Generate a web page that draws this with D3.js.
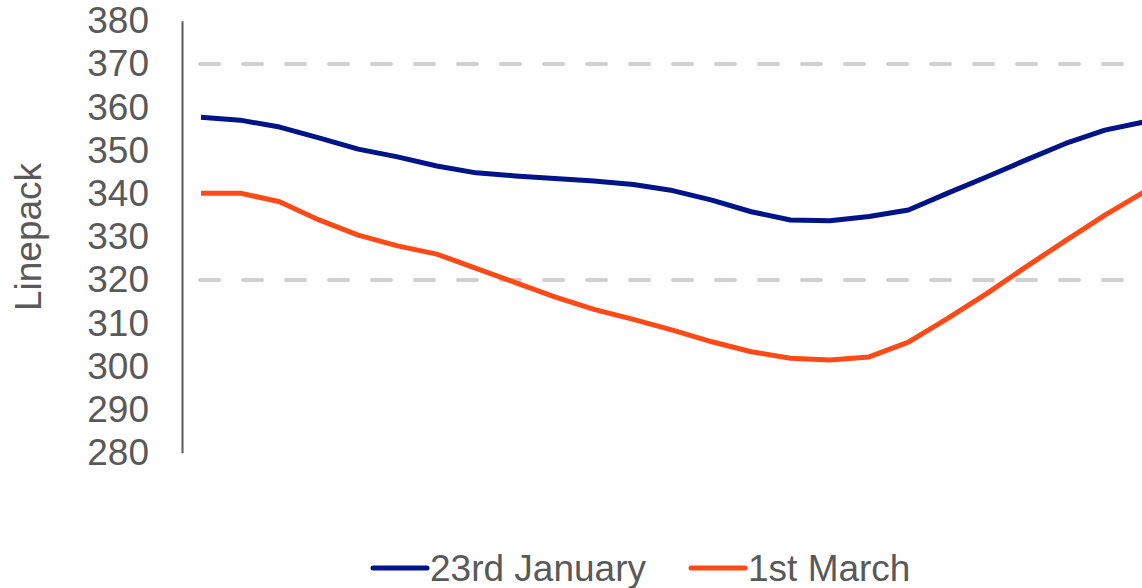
<!DOCTYPE html>
<html>
<head>
<meta charset="utf-8">
<script src="https://cdn.jsdelivr.net/npm/d3@7"></script>
<style>
  html, body { margin: 0; padding: 0; background: #fff; }
  svg { display: block; font-family: "Liberation Sans", Arial, sans-serif; }
</style>
</head>
<body>
<div id="chart"></div>
<script>
// periods along the day (no axis labels shown in the original)
const periods = ['1', '2', '3', '4', '5', '6', '7', '8', '9', '10', '11', '12', '13',
  '14', '15', '16', '17', '18', '19', '20', '21', '22', '23', '24', '25']

const jan23 = [357.7, 357.0, 355.4, 352.9, 350.3, 348.5, 346.4, 344.8, 344.1, 343.5,
  342.9, 342.1, 340.7, 338.5, 335.8, 333.9, 333.7, 334.7, 336.2, 340.1,
  343.9, 347.8, 351.6, 354.7, 356.6]

const mar1 = [340.1, 340.1, 338.1, 333.9, 330.4, 327.9, 326.0, 322.7, 319.4, 316.1,
  313.2, 310.9, 308.4, 305.7, 303.4, 301.9, 301.5, 302.2, 305.6, 311.1,
  316.9, 323.1, 329.1, 335.0, 340.4]

const yTicks = [280, 290, 300, 310, 320, 330, 340, 350, 360, 370, 380]
const gridValues = [320, 370]

const series = [
  { name: '23rd January', values: jan23, color: '#001489' },
  { name: '1st March', values: mar1, color: '#FF4A17' }
]

const width = 1142
const height = 588

const svg = d3.select('#chart')
  .append('svg')
  .attr('width', width)
  .attr('height', height)

const x = d3.scalePoint()
  .domain(periods)
  .range([201, 201 + 39.3 * (periods.length - 1)])

const y = d3.scaleLinear()
  .domain([280, 380])
  .range([452.8, 20.8])

// dashed reference lines
svg.append('g')
  .selectAll('line')
  .data(gridValues)
  .join('line')
  .attr('x1', 200)
  .attr('x2', width + 10)
  .attr('y1', d => y(d))
  .attr('y2', d => y(d))
  .attr('stroke', '#d0d0d0')
  .attr('stroke-width', 4)
  .attr('stroke-linecap', 'round')
  .attr('stroke-dasharray', '19,24')

// y axis
const yAxis = svg.append('g')
  .attr('transform', 'translate(182, 0)')
  .call(d3.axisLeft(y).tickValues(yTicks).tickSize(0).tickPadding(33))

yAxis.select('.domain')
  .attr('stroke', '#595959')
  .attr('stroke-width', 2)

yAxis.selectAll('text')
  .attr('fill', '#595959')
  .style('font-size', '37px')
  .style('font-family', '"Liberation Sans", Arial, sans-serif')

svg.append('text')
  .attr('transform', 'translate(41, 237) rotate(-90)')
  .attr('text-anchor', 'middle')
  .attr('fill', '#595959')
  .style('font-size', '37px')
  .text('Linepack')

// lines
const line = d3.line()
  .x((d, i) => x(periods[i]))
  .y(d => y(d))

svg.append('g')
  .selectAll('path')
  .data(series)
  .join('path')
  .attr('d', d => line(d.values))
  .attr('fill', 'none')
  .attr('stroke', d => d.color)
  .attr('stroke-width', 5)
  .attr('stroke-linejoin', 'round')

// legend
const legendX = [373, 691]
const legend = svg.append('g')
  .selectAll('g')
  .data(series)
  .join('g')
  .attr('transform', (d, i) => `translate(${legendX[i]}, 568)`)

legend.append('line')
  .attr('x1', 0)
  .attr('x2', 54)
  .attr('stroke', d => d.color)
  .attr('stroke-width', 5)
  .attr('stroke-linecap', 'round')

legend.append('text')
  .attr('x', 57)
  .attr('y', 13)
  .attr('fill', '#595959')
  .style('font-size', '37px')
  .text(d => d.name)
</script>
</body>
</html>
